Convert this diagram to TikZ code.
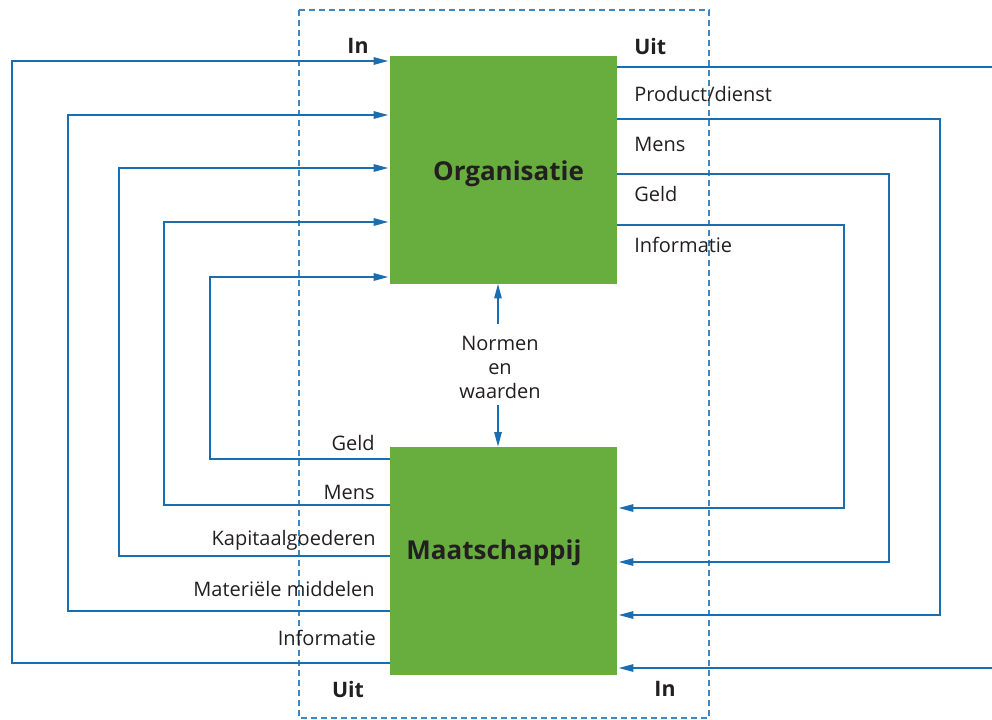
\documentclass[tikz,border=0pt]{standalone}
\usepackage{fontspec}
\setmainfont{Open Sans}
\usetikzlibrary{arrows.meta}
\definecolor{boxgreen}{HTML}{67AE3E}
\definecolor{flowblue}{HTML}{1A6DAF}
\definecolor{frameblue}{HTML}{3F87C0}
\definecolor{ink}{HTML}{231F20}
\tikzset{
  box/.style={fill=boxgreen, draw=none, minimum width=170.25pt, minimum height=171pt,
              inner sep=0pt},
  boxtext/.style={text=ink, inner sep=0pt, font=\fontsize{19.5}{22}\selectfont\bfseries},
  flow/.style={draw=flowblue, line width=1.3pt, line join=miter,
               -{Triangle[length=11pt,width=5.5pt]}},
  plain/.style={draw=flowblue, line width=1.3pt, line join=miter},
  lbl/.style={text=ink, inner sep=0pt, font=\fontsize{15}{17}\selectfont},
  head/.style={text=ink, inner sep=0pt, font=\fontsize{16}{18}\selectfont\bfseries},
  frame/.style={draw=frameblue, line width=0.9pt, dash pattern=on 4.5pt off 3pt}
}
\begin{document}
\begin{tikzpicture}[x=0.75pt, y=-0.75pt]
  \useasboundingbox (0,0) rectangle (992,719);

  % system boundary
  \draw[frame] (299,10) rectangle (709,718);

  % the two blocks
  \node[box] (org) at (503.5,169.5) {};
  \node[box] (mat) at (503.5,561) {};
  \node[boxtext] (orgt) at (508.5,174) {Organisatie};
  \node[boxtext] (matt) at (494,553) {Maatschappij};

  % corner points of the loops on the left
  \coordinate (la1) at (12,61);    \coordinate (lb1) at (12,663);
  \coordinate (la2) at (68,115);   \coordinate (lb2) at (68,611);
  \coordinate (la3) at (119,168);  \coordinate (lb3) at (119,556);
  \coordinate (la4) at (164,222);  \coordinate (lb4) at (164,505);
  \coordinate (la5) at (210,277);  \coordinate (lb5) at (210,459);

  % corner points of the loops on the right
  \coordinate (ra1) at (992,67);    \coordinate (rb1) at (992,668);
  \coordinate (ra2) at (940,119);   \coordinate (rb2) at (940,615);
  \coordinate (ra3) at (889,174);   \coordinate (rb3) at (889,562);
  \coordinate (ra4) at (844,225);   \coordinate (rb4) at (844,508);

  % society -> organisation
  \foreach \i in {1,...,5}{
    \draw[flow, shorten >=1pt] (mat.west |- lb\i) -- (lb\i) -- (la\i) -- (org.west |- la\i);
  }
  % organisation -> society
  \draw[plain] (org.east |- ra1) -- (ra1);
  \draw[flow, shorten >=1pt] (rb1) -- (mat.east |- rb1);
  \foreach \i in {2,3,4}{
    \draw[flow, shorten >=1pt] (org.east |- ra\i) -- (ra\i) -- (rb\i) -- (mat.east |- rb\i);
  }

  % norms and values
  \node[lbl, align=center, font=\fontsize{15}{18}\selectfont] (nw) at (500,367) {Normen\\en\\waarden};
  \coordinate (nwt) at (498,324);
  \coordinate (nwb) at (498,405);
  \draw[flow] (nwt) -- (org.south -| nwt);
  \draw[flow] (nwb) -- (mat.north -| nwb);

  % headings
  \node[head] (hin1) at (358,46) {In};
  \node[head, anchor=west] (huit1) at (634,46) {Uit};
  \node[head] (huit2) at (348,689) {Uit};
  \node[head] (hin2) at (665,689) {In};

  % flows leaving the organisation
  \node[lbl, anchor=west] (r1) at (634,94) {Product/dienst};
  \node[lbl, anchor=west] (r2) at (634,144) {Mens};
  \node[lbl, anchor=west] (r3) at (634,194) {Geld};
  \node[lbl, anchor=west] (r4) at (634,245) {Informatie};

  % flows entering the organisation
  \node[lbl, anchor=east] (l1) at (375,443) {Geld};
  \node[lbl, anchor=east] (l2) at (375,492) {Mens};
  \node[lbl, anchor=east] (l3) at (376,540) {Kapitaalgoederen};
  \node[lbl, anchor=east] (l4) at (375,589) {Materiële middelen};
  \node[lbl, anchor=east] (l5) at (376,638) {Informatie};
\end{tikzpicture}
\end{document}
